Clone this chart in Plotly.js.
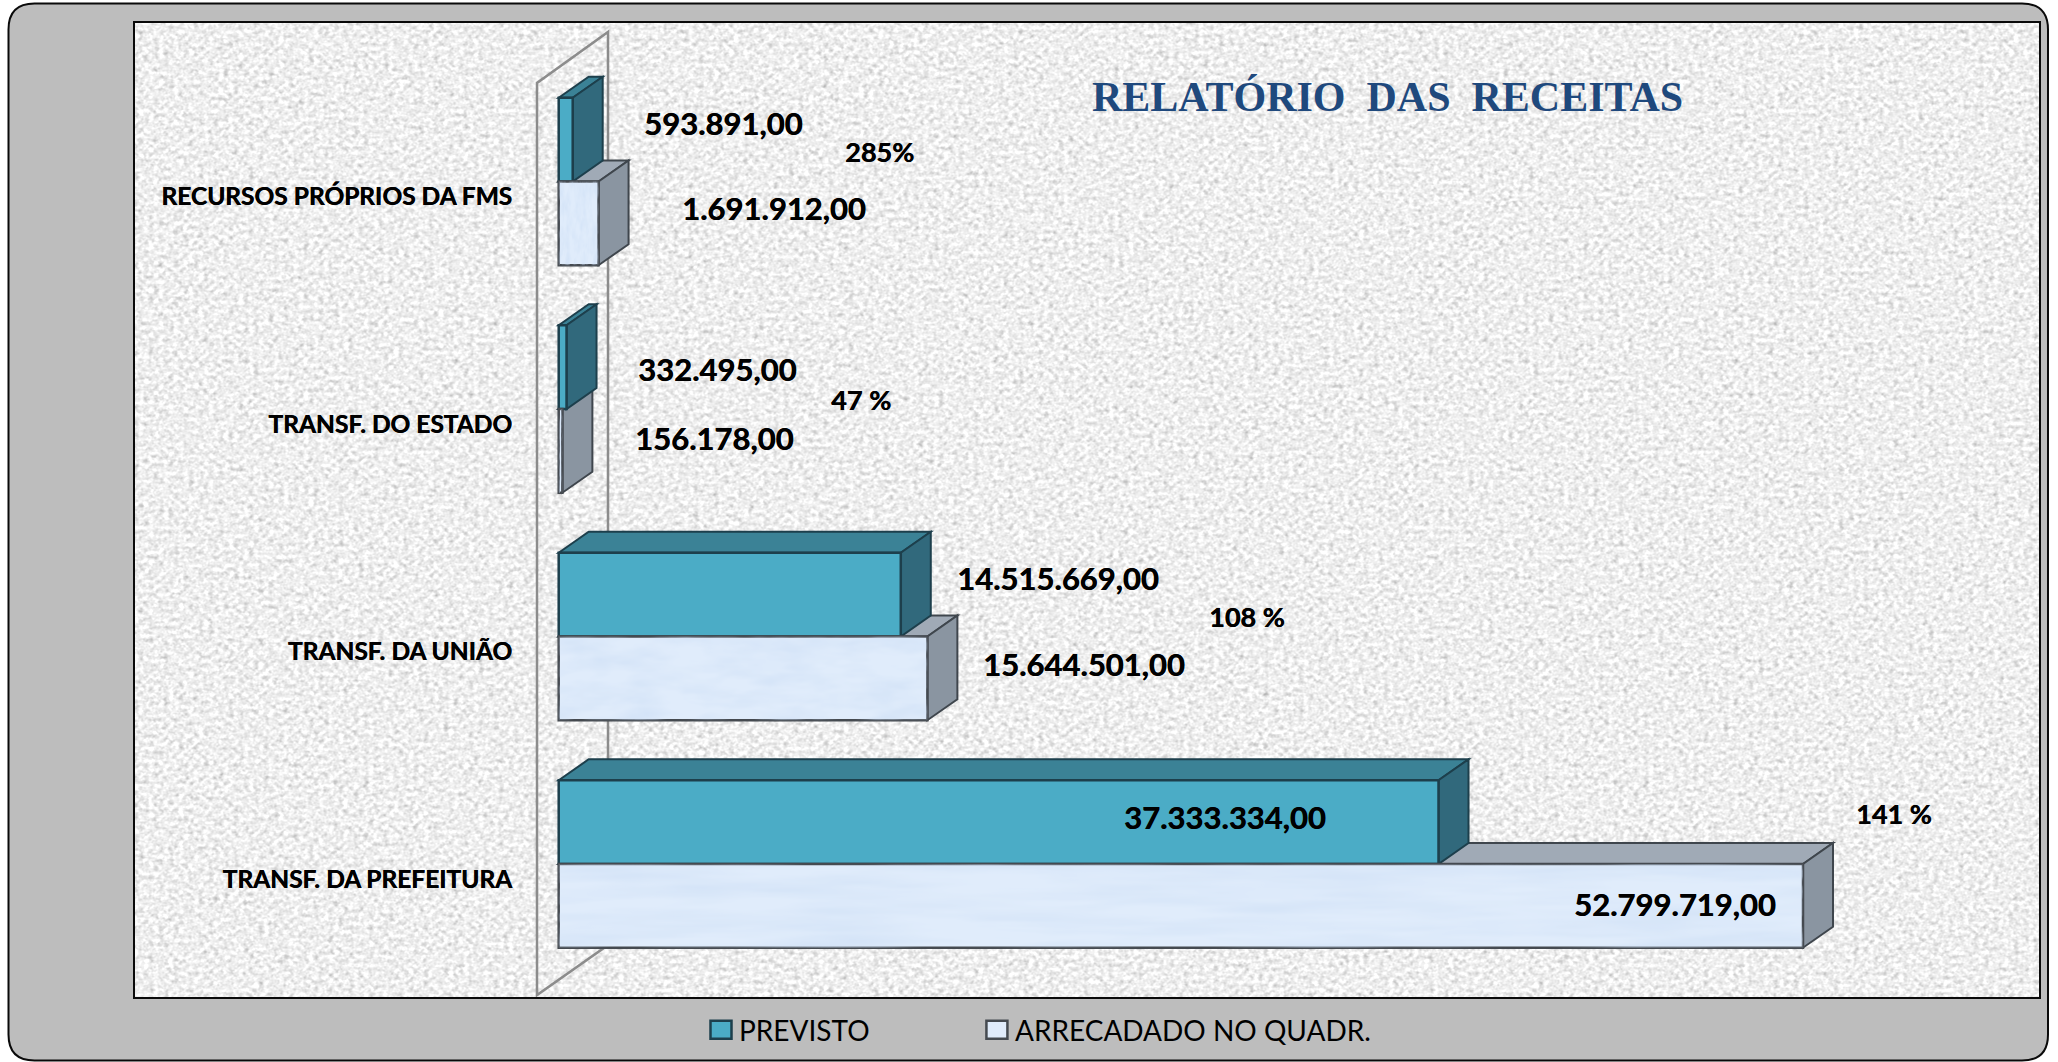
<!DOCTYPE html>
<html>
<head>
<meta charset="utf-8">
<script src="https://cdn.plot.ly/plotly-3.0.1.min.js"></script>
<style>html,body{margin:0;padding:0;background:#fff;overflow:hidden}</style>
</head>
<body>
<div id="chart" style="width:2058px;height:1062px"></div>
<script>
// ---- data (bottom to top) ----
const categories = ["TRANSF. DA PREFEITURA", "TRANSF. DA UNIÃO", "TRANSF. DO ESTADO", "RECURSOS PRÓPRIOS DA FMS"];
const previsto   = [37333334, 14515669, 332495, 593891];
const arrecadado = [52799719, 15644501, 156178, 1691912];
const percentLabels = ["141 %", "108 %", "47 %", "285%"];
const seriesNames = ["PREVISTO", "ARRECADADO NO QUADR."];
const chartTitle = "RELATÓRIO\u00A0\u00A0DAS\u00A0\u00A0RECEITAS";

// ---- layout constants, in page pixels ----
const W = 2058, H = 1062;
const panel = {l: 134, t: 22, r: 2040, b: 998};
const pw = panel.r - panel.l, ph = panel.b - panel.t;
const zeroPx = 558.7, pxPerUnitX = 1244.3 / 52799719;
const catCenter0 = 864, pxPerCat = 227.5;
const barH = 83.7 / pxPerCat;
const depthX = 30 / pxPerUnitX, depthY = 21 / pxPerCat;
const xRange = [(panel.l - zeroPx) / pxPerUnitX, (panel.r - zeroPx) / pxPerUnitX];
const yRange = [(catCenter0 - panel.b) / pxPerCat, (catCenter0 - panel.t) / pxPerCat];
const px = v => (v - panel.l) / pw;
const py = v => (panel.b - v) / ph;
const idx = categories.map((c, i) => i);

const fmt = v => v.toLocaleString('pt-BR', {minimumFractionDigits: 2, maximumFractionDigits: 2});

// label placement (left edge, vertical centre) in page pixels
const previstoLabelPos   = [[1124, 817], [957, 578], [638, 369], [644, 123]];
const arrecadadoLabelPos = [[1574, 904], [983, 664], [635, 438], [682, 208]];
const percentLabelPos    = [[1856, 813], [1209, 616], [831, 400], [845, 151]];

const rr = {l: 8.5, t: 3.5, r: 2048, b: 1060.5, k: 26};
const P = (x, y) => px(x) + ',' + py(y);
const framePath =
  'M' + P(rr.l + rr.k, rr.t) + ' L' + P(rr.r - rr.k, rr.t) + ' Q' + P(rr.r, rr.t) + ' ' + P(rr.r, rr.t + rr.k) +
  ' L' + P(rr.r, rr.b - rr.k) + ' Q' + P(rr.r, rr.b) + ' ' + P(rr.r - rr.k, rr.b) +
  ' L' + P(rr.l + rr.k, rr.b) + ' Q' + P(rr.l, rr.b) + ' ' + P(rr.l, rr.b - rr.k) +
  ' L' + P(rr.l, rr.t + rr.k) + ' Q' + P(rr.l, rr.t) + ' ' + P(rr.l + rr.k, rr.t) + ' Z' +
  ' M' + P(panel.l, panel.t) + ' L' + P(panel.r, panel.t) + ' L' + P(panel.r, panel.b) + ' L' + P(panel.l, panel.b) + ' Z';
const wallPath = 'M' + P(537, 995) + ' L' + P(537, 83) + ' L' + P(608, 32) + ' L' + P(608, 945) + ' Z';

const shapes = [
  {type: 'path', xref: 'paper', yref: 'paper', layer: 'below', path: wallPath, fillcolor: 'rgba(0,0,0,0)', line: {color: '#8c8c8c', width: 2.5}},
  {type: 'path', xref: 'paper', yref: 'paper', layer: 'below', path: framePath, fillrule: 'evenodd', fillcolor: '#bdbdbd', line: {color: '#0a0a0a', width: 2}}
];

function faces(v, yLow, topColor, sideColor, lineColor) {
  const yHigh = yLow + barH;
  const top = `M0,${yHigh} L${depthX},${yHigh + depthY} L${v + depthX},${yHigh + depthY} L${v},${yHigh} Z`;
  const side = `M${v},${yHigh} L${v + depthX},${yHigh + depthY} L${v + depthX},${yLow + depthY} L${v},${yLow} Z`;
  const mk = (path, fill) => ({type: 'path', xref: 'x', yref: 'y', layer: 'below', path, fillcolor: fill, line: {color: lineColor, width: 2}});
  shapes.push(mk(top, topColor), mk(side, sideColor));
}
idx.forEach(i => faces(arrecadado[i], i - barH, '#a0aab6', '#8a95a1', '#3f464d'));
idx.forEach(i => faces(previsto[i], i, '#3b8296', '#31697c', '#1d3f4c'));

const embolden = '0.5px 0 0 #000';
const annFont = {family: 'Lato, sans-serif', size: 31, color: '#000', weight: 700, shadow: embolden};
const pctFont = {family: 'Lato, sans-serif', size: 27, color: '#000', weight: 700, shadow: embolden};
const annotations = [];
function addLabel(text, pos, font) {
  annotations.push({text, xref: 'paper', yref: 'paper', x: px(pos[0]), y: py(pos[1]), xanchor: 'left', yanchor: 'middle',
    showarrow: false, font, borderpad: 0, borderwidth: 0});
}
idx.forEach(i => {
  addLabel(fmt(previsto[i]), previstoLabelPos[i], annFont);
  addLabel(fmt(arrecadado[i]), arrecadadoLabelPos[i], annFont);
  addLabel(percentLabels[i], percentLabelPos[i], pctFont);
});

const svgUrl = s => 'data:image/svg+xml;utf8,' + encodeURIComponent(s);
const textureSvg = `<svg xmlns="http://www.w3.org/2000/svg" width="${pw}" height="${ph}"><filter id="n" x="0" y="0" width="100%" height="100%" color-interpolation-filters="sRGB"><feTurbulence type="fractalNoise" baseFrequency="0.2 0.24" numOctaves="2" seed="7"/><feColorMatrix type="matrix" values="0.24 0.24 0.24 0 0.575 0.24 0.24 0.24 0 0.575 0.24 0.24 0.24 0 0.575 0 0 0 0 1"/></filter><rect width="100%" height="100%" fill="#eee" filter="url(#n)"/></svg>`;
const barTextureSvg = `<svg xmlns="http://www.w3.org/2000/svg" width="600" height="100" preserveAspectRatio="none"><filter id="b" x="0" y="0" width="100%" height="100%" color-interpolation-filters="sRGB"><feTurbulence type="fractalNoise" baseFrequency="0.012 0.05" numOctaves="3" seed="11"/><feColorMatrix type="matrix" values="0 0 0 0 0.80 0 0 0 0 0.87 0 0 0 0 0.96 0.8 0.8 0 0 -0.62"/></filter><rect width="100%" height="100%" filter="url(#b)"/></svg>`;

const images = [{source: svgUrl(textureSvg), xref: 'paper', yref: 'paper', x: 0, y: 1, sizex: 1, sizey: 1,
                 xanchor: 'left', yanchor: 'top', sizing: 'stretch', layer: 'below'}];
idx.forEach(i => images.push({source: svgUrl(barTextureSvg), xref: 'x', yref: 'y', x: 0, y: i, sizex: arrecadado[i], sizey: barH,
                 xanchor: 'left', yanchor: 'top', sizing: 'stretch', layer: 'above'}));

const legendPad = '\u00A0'.repeat(14);
const traces = [
  {type: 'bar', orientation: 'h', name: seriesNames[0] + legendPad, x: previsto, y: idx, width: barH, offset: 0,
   marker: {color: '#4bacc6', line: {color: '#1d3f4c', width: 2.5}}, hoverinfo: 'x+name'},
  {type: 'bar', orientation: 'h', name: seriesNames[1], x: arrecadado, y: idx, width: barH, offset: -barH,
   marker: {color: '#e0ecfb', line: {color: '#454a50', width: 2.5}}, hoverinfo: 'x+name'}
];

const layout = {
  width: W, height: H, autosize: false,
  margin: {l: panel.l, r: W - panel.r, t: panel.t, b: H - panel.b, pad: 0, autoexpand: false},
  paper_bgcolor: '#ffffff', plot_bgcolor: 'rgba(0,0,0,0)',
  barmode: 'overlay',
  title: {text: chartTitle, x: 1387.5 / W, xanchor: 'center', xref: 'container', y: 1 - 96.5 / H, yanchor: 'middle',
          font: {family: '"Liberation Serif", serif', size: 42, color: '#1f497d', weight: 700}},
  xaxis: {range: xRange, visible: false, fixedrange: true},
  yaxis: {range: yRange, anchor: 'free', position: px(512), tickmode: 'array', tickvals: idx.map(i => i - 15 / pxPerCat), ticktext: categories,
          showgrid: false, zeroline: false, showline: false, ticks: '', fixedrange: true,
          tickfont: {family: 'Lato, sans-serif', size: 24.5, color: '#000', weight: 700, shadow: embolden}},
  showlegend: true,
  legend: {orientation: 'h', x: px(699), xanchor: 'left', y: py(1030), yanchor: 'middle', bgcolor: 'rgba(0,0,0,0)', borderwidth: 0,
           font: {family: 'Lato, sans-serif', size: 28, color: '#000'}},
  images, shapes, annotations
};

Plotly.newPlot('chart', traces, layout, {displayModeBar: false, responsive: false}).then(() => {
  document.querySelectorAll('.legendpoints path').forEach(p => {
    p.setAttribute('d', 'M10.5,9H-10.5V-9H10.5Z');
    p.setAttribute('transform', 'translate(22,0)');
  });
});
</script>
</body>
</html>
